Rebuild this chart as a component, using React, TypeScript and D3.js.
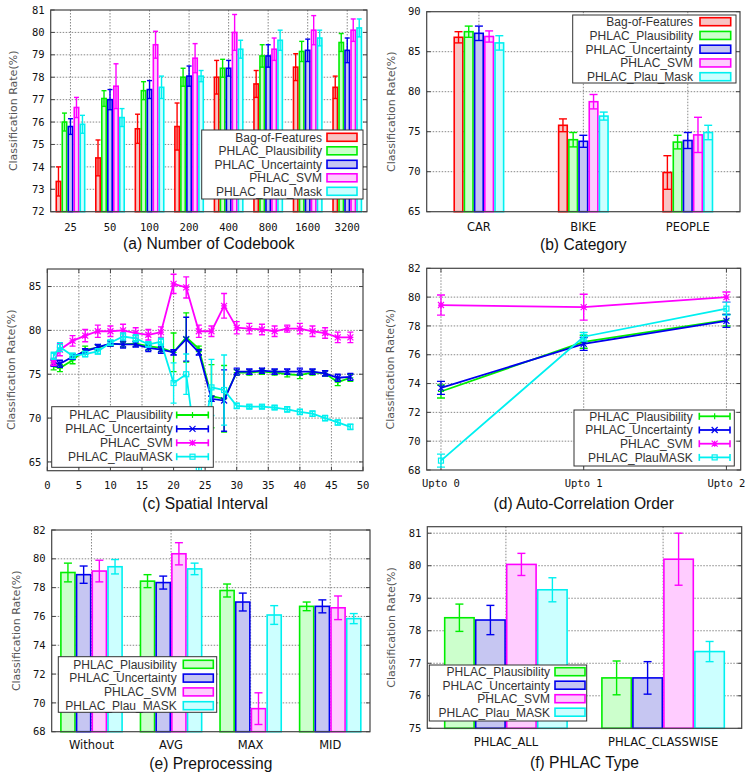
import React from "react";
import * as d3 from "d3";

const W = 745;
const H = 773;

// ---------- colours ----------
const C = { red: "#ff0000", green: "#00ee00", blue: "#0000ee", magenta: "#ff00ff", cyan: "#00f0f0" };
const F = { red: "#f8c4c4", green: "#ccffcc", blue: "#c6c6f2", magenta: "#ffccff", cyan: "#ccffff" };

// ---------- (a) Number of Codebook ----------
const codebookCats = ["25", "50", "100", "200", "400", "800", "1600", "3200"];
const bar5Names = ["Bag-of-Features", "PHLAC_Plausibility", "PHLAC_Uncertainty", "PHLAC_SVM", "PHLAC_Plau_Mask"];
const codebookBoF = [73.35, 74.4, 75.7, 75.8, 78.0, 77.7, 78.45, 77.55];
const codebookBoFErr = [0.65, 0.8, 0.65, 1.05, 0.75, 0.6, 0.6, 0.5];
const codebookPlaus = [76.0, 77.05, 77.4, 78.0, 78.4, 78.95, 79.15, 79.55];
const codebookPlausErr = [0.4, 0.35, 0.4, 0.4, 0.4, 0.5, 0.45, 0.4];
const codebookUncert = [75.8, 77.0, 77.45, 78.05, 78.4, 78.95, 79.2, 79.2];
const codebookUncertErr = [0.35, 0.45, 0.4, 0.45, 0.35, 0.5, 0.5, 0.55];
const codebookSVM = [76.65, 77.6, 79.45, 78.85, 80.0, 79.25, 80.1, 80.1];
const codebookSVMErr = [0.45, 1.0, 0.6, 0.65, 0.8, 0.5, 0.65, 0.5];
const codebookMask = [75.9, 76.2, 77.55, 78.05, 79.25, 79.65, 79.75, 80.2];
const codebookMaskErr = [0.4, 0.4, 0.5, 0.25, 0.4, 0.45, 0.35, 0.4];
const codebookYTicks = [72, 73, 74, 75, 76, 77, 78, 79, 80, 81];

// ---------- (b) Category ----------
const categoryCats = ["CAR", "BIKE", "PEOPLE"];
const categoryBoF = [86.8, 75.8, 69.9];
const categoryBoFErr = [0.7, 0.8, 2.1];
const categoryPlaus = [87.5, 74.0, 73.7];
const categoryPlausErr = [0.7, 0.9, 0.85];
const categoryUncert = [87.3, 73.8, 73.9];
const categoryUncertErr = [0.9, 0.75, 1.0];
const categorySVM = [86.9, 78.75, 74.6];
const categorySVMErr = [0.7, 0.9, 2.2];
const categoryMask = [86.1, 76.95, 74.9];
const categoryMaskErr = [0.9, 0.5, 0.9];
const categoryYTicks = [65, 70, 75, 80, 85, 90];

// ---------- (c) Spatial Interval ----------
const lineNames = ["PHLAC_Plausibility", "PHLAC_Uncertainty", "PHLAC_SVM", "PHLAC_PlauMASK"];
const spatialX = [1, 2, 4, 6, 8, 10, 12, 14, 16, 18, 20, 22, 24, 26, 28, 30, 32, 34, 36, 38, 40, 42, 44, 46, 48];
const spatialPlaus = [75.9, 75.7, 76.6, 77.8, 78.0, 78.5, 78.4, 78.5, 78.2, 78.0, 77.5, 79.2, 77.9, 72.5, 72.2, 75.2, 75.2, 75.3, 75.2, 75.0, 74.9, 75.2, 75.1, 74.1, 74.6];
const spatialPlausErr = [0.4, 0.4, 0.4, 0.4, 0.3, 0.3, 0.3, 0.3, 0.4, 0.4, 2.2, 2.8, 0.3, 3.6, 3.8, 0.3, 0.3, 0.3, 0.3, 0.3, 0.4, 0.3, 0.3, 0.4, 0.4];
const spatialUncert = [76.3, 76.2, 77.0, 77.6, 78.1, 78.5, 78.4, 78.4, 78.0, 77.8, 77.5, 79.0, 77.5, 72.2, 72.0, 75.3, 75.3, 75.4, 75.3, 75.3, 75.3, 75.3, 75.1, 74.6, 74.7];
const spatialUncertErr = [0.4, 0.4, 0.3, 0.3, 0.3, 0.3, 0.4, 0.3, 0.4, 0.4, 0.3, 2.5, 0.3, 0.3, 3.5, 0.4, 0.3, 0.3, 0.3, 0.3, 0.4, 0.3, 0.3, 0.4, 0.4];
const spatialSVM = [76.4, 77.8, 78.8, 79.4, 79.9, 79.9, 80.0, 79.7, 79.5, 79.8, 85.3, 84.9, 79.9, 79.9, 82.8, 80.3, 80.2, 80.1, 79.9, 80.2, 80.2, 79.9, 79.7, 79.2, 79.2];
const spatialSVMErr = [0.4, 0.7, 0.6, 0.7, 0.7, 0.6, 0.7, 0.6, 0.6, 0.6, 1.1, 1.2, 0.7, 0.6, 1.4, 0.7, 0.6, 0.6, 0.6, 0.4, 0.6, 0.6, 0.6, 0.6, 0.6];
const spatialMask = [77.1, 78.1, 77.1, 77.3, 77.6, 78.6, 79.3, 79.1, 78.4, 78.7, 74.0, 75.0, 64.3, 73.5, 73.2, 71.4, 71.3, 71.3, 71.2, 71.0, 70.7, 70.5, 70.0, 69.5, 69.0];
const spatialMaskErr = [0.4, 0.5, 0.3, 0.3, 0.3, 0.3, 0.4, 0.4, 0.3, 0.4, 2.3, 2.3, 6.5, 3.2, 4.0, 0.3, 0.2, 0.2, 0.2, 0.3, 0.3, 0.3, 0.3, 0.3, 0.3];
const spatialXTicks = [0, 5, 10, 15, 20, 25, 30, 35, 40, 45, 50];
const spatialYTicks = [65, 70, 75, 80, 85];

// ---------- (d) Auto-Correlation Order ----------
const orderCats = ["Upto 0", "Upto 1", "Upto 2"];
const orderPlaus = [73.45, 76.9, 78.4];
const orderPlausErr = [0.45, 0.45, 0.4];
const orderUncert = [73.7, 76.75, 78.35];
const orderUncertErr = [0.45, 0.45, 0.45];
const orderSVM = [79.45, 79.3, 80.0];
const orderSVMErr = [0.7, 0.9, 0.35];
const orderMask = [68.65, 77.25, 79.2];
const orderMaskErr = [0.45, 0.3, 0.45];
const orderYTicks = [68, 70, 72, 74, 76, 78, 80, 82];

// ---------- (e) Preprocessing ----------
const bar4Names = ["PHLAC_Plausibility", "PHLAC_Uncertainty", "PHLAC_SVM", "PHLAC_Plau_MASK"];
const prepCats = ["Without", "AVG", "MAX", "MID"];
const prepPlaus = [79.05, 78.45, 77.8, 76.7];
const prepPlausErr = [0.65, 0.45, 0.45, 0.3];
const prepUncert = [78.9, 78.35, 77.0, 76.7];
const prepUncertErr = [0.6, 0.45, 0.62, 0.45];
const prepSVM = [79.15, 80.35, 69.6, 76.6];
const prepSVMErr = [0.75, 0.77, 1.1, 0.82];
const prepMask = [79.45, 79.3, 76.1, 75.85];
const prepMaskErr = [0.5, 0.4, 0.65, 0.35];
const prepYTicks = [68, 70, 72, 74, 76, 78, 80, 82];

// ---------- (f) PHLAC Type ----------
const typeCats = ["PHLAC_ALL", "PHLAC_CLASSWISE"];
const typePlaus = [78.4, 76.55];
const typePlausErr = [0.42, 0.52];
const typeUncert = [78.33, 76.55];
const typeUncertErr = [0.45, 0.5];
const typeSVM = [80.04, 80.2];
const typeSVMErr = [0.34, 0.8];
const typeMask = [79.26, 77.36];
const typeMaskErr = [0.37, 0.31];
const typeYTicks = [75, 76, 77, 78, 79, 80, 81];

// ---------- helpers ----------
type Series = { name: string; color: string; fill: string; values: number[]; errs: number[]; marker?: string };
type Box = { L: number; R: number; T: number; B: number };
type Legend = { x0: number; x1: number; y0: number; y1: number; row0: number; step: number; textRight: number; sw0: number; sw1: number };

const MONO = "'DejaVu Sans Mono', monospace";
const SANS = "'DejaVu Sans', sans-serif";
const LEG = "'Liberation Sans', Arial, sans-serif";
const GRID = { stroke: "#7a7a7a", strokeWidth: 0.9, strokeDasharray: "1.5,1.5" };

function YAxis({ box, y, ticks, titleX }: { box: Box; y: d3.ScaleLinear<number, number>; ticks: number[]; titleX: number }) {
  const cy = (box.T + box.B) / 2;
  return (
    <g>
      {ticks.map((t) => (
        <g key={t}>
          {y(t) > box.T + 1 && y(t) < box.B - 1 && <line x1={box.L} x2={box.R} y1={y(t)} y2={y(t)} {...GRID} />}
          <line x1={box.L} x2={box.L + 4} y1={y(t)} y2={y(t)} stroke="#444" />
          <line x1={box.R - 4} x2={box.R} y1={y(t)} y2={y(t)} stroke="#444" />
          <text x={box.L - 6} y={y(t)} dy="0.35em" textAnchor="end" fontFamily={MONO} fontSize={10.5} fill="#111">
            {t}
          </text>
        </g>
      ))}
      <text
        transform={`translate(${titleX},${cy}) rotate(-90)`}
        textAnchor="middle"
        dominantBaseline="central"
        fontFamily={SANS}
        fontSize={11}
        fill="#555"
      >
        Classification Rate(%)
      </text>
    </g>
  );
}

function Marker({ type, x, y, color }: { type?: string; x: number; y: number; color: string }) {
  const s = 3;
  if (type === "plus") return <path d={`M${x - s},${y}h${2 * s}M${x},${y - s}v${2 * s}`} stroke={color} strokeWidth={1.2} />;
  if (type === "cross")
    return <path d={`M${x - s},${y - s}l${2 * s},${2 * s}M${x - s},${y + s}l${2 * s},${-2 * s}`} stroke={color} strokeWidth={1.2} />;
  if (type === "star")
    return (
      <path
        d={`M${x - s},${y}h${2 * s}M${x},${y - s}v${2 * s}M${x - s},${y - s}l${2 * s},${2 * s}M${x - s},${y + s}l${2 * s},${-2 * s}`}
        stroke={color}
        strokeWidth={1.2}
      />
    );
  if (type === "square") return <rect x={x - 2.5} y={y - 2.5} width={5} height={5} fill="none" stroke={color} strokeWidth={1.2} />;
  return null;
}

function LegendBox({ lg, series, kind }: { lg: Legend; series: Series[]; kind: "bar" | "line" }) {
  return (
    <g>
      <rect x={lg.x0} y={lg.y0} width={lg.x1 - lg.x0} height={lg.y1 - lg.y0} fill="#fff" stroke="#333" strokeWidth={1} />
      {series.map((s, i) => {
        const cy = lg.row0 + i * lg.step;
        return (
          <g key={s.name}>
            <text x={lg.textRight} y={cy} dy="0.36em" textAnchor="end" fontFamily={LEG} fontSize={12} fill="#333">
              {s.name}
            </text>
            {kind === "bar" ? (
              <rect x={lg.sw0} y={cy - 4} width={lg.sw1 - lg.sw0} height={8} fill={s.fill} stroke={s.color} strokeWidth={1.6} />
            ) : (
              <g>
                <line x1={lg.sw0} x2={lg.sw1} y1={cy} y2={cy} stroke={s.color} strokeWidth={1.8} />
                <line x1={lg.sw0} x2={lg.sw0} y1={cy - 3.5} y2={cy + 3.5} stroke={s.color} strokeWidth={1.6} />
                <line x1={lg.sw1} x2={lg.sw1} y1={cy - 3.5} y2={cy + 3.5} stroke={s.color} strokeWidth={1.6} />
                <Marker type={s.marker} x={(lg.sw0 + lg.sw1) / 2} y={cy} color={s.color} />
              </g>
            )}
          </g>
        );
      })}
    </g>
  );
}

function Title({ x, y, text }: { x: number; y: number; text: string }) {
  return (
    <text x={x} y={y} textAnchor="middle" fontFamily={LEG} fontSize={15.6} fill="#111">
      {text}
    </text>
  );
}

type BarCfg = {
  box: Box;
  yDomain: [number, number];
  yTicks: number[];
  cats: string[];
  series: Series[];
  barW: number;
  capW: number;
  catFont: string;
  catSize: number;
  labelDy: number;
  titleX: number;
  title: string;
  titleY: number;
  legend: Legend;
};

function BarPanel({ cfg }: { cfg: BarCfg }) {
  const { box } = cfg;
  const x = d3.scaleLinear().domain([-0.5, cfg.cats.length - 0.5]).range([box.L, box.R]);
  const y = d3.scaleLinear().domain(cfg.yDomain).range([box.B, box.T]);
  const k = cfg.series.length;
  return (
    <g>
      <rect x={box.L} y={box.T} width={box.R - box.L} height={box.B - box.T} fill="#fff" />
      <YAxis box={box} y={y} ticks={cfg.yTicks} titleX={cfg.titleX} />
      {cfg.cats.map((c, i) => (
        <g key={c}>
          <line x1={x(i)} x2={x(i)} y1={box.T} y2={box.B} {...GRID} />
          <text x={x(i)} y={box.B + cfg.labelDy} textAnchor="middle" fontFamily={cfg.catFont} fontSize={cfg.catSize} fill="#111">
            {c}
          </text>
        </g>
      ))}
      {cfg.series.map((s, j) =>
        s.values.map((v, i) => {
          const cx = x(i) + (j - (k - 1) / 2) * cfg.barW;
          const top = y(v);
          return (
            <g key={`${j}-${i}`}>
              <rect x={cx - cfg.barW / 2 + 0.8} y={top} width={cfg.barW - 1.6} height={box.B - top} fill={s.fill} stroke={s.color} strokeWidth={1.6} />
              <line x1={cx} x2={cx} y1={y(v + s.errs[i])} y2={y(v - s.errs[i])} stroke={s.color} strokeWidth={1.4} />
              <line x1={cx - cfg.capW / 2} x2={cx + cfg.capW / 2} y1={y(v + s.errs[i])} y2={y(v + s.errs[i])} stroke={s.color} strokeWidth={1.4} />
              <line x1={cx - cfg.capW / 2} x2={cx + cfg.capW / 2} y1={y(v - s.errs[i])} y2={y(v - s.errs[i])} stroke={s.color} strokeWidth={1.4} />
            </g>
          );
        })
      )}
      <rect x={box.L} y={box.T} width={box.R - box.L} height={box.B - box.T} fill="none" stroke="#444" strokeWidth={1.2} />
      <LegendBox lg={cfg.legend} series={cfg.series} kind="bar" />
      <Title x={(box.L + box.R) / 2} y={cfg.titleY} text={cfg.title} />
    </g>
  );
}

type LineCfg = {
  id: string;
  box: Box;
  xDomain: [number, number];
  xs: number[];
  xTicks: number[];
  xLabels: string[];
  xGrid: number[];
  yDomain: [number, number];
  yTicks: number[];
  series: Series[];
  capW: number;
  labelDy: number;
  titleX: number;
  title: string;
  titleY: number;
  legend: Legend;
};

function LinePanel({ cfg }: { cfg: LineCfg }) {
  const { box } = cfg;
  const x = d3.scaleLinear().domain(cfg.xDomain).range([box.L, box.R]);
  const y = d3.scaleLinear().domain(cfg.yDomain).range([box.B, box.T]);
  const line = d3
    .line<number>()
    .x((_, i) => x(cfg.xs[i]))
    .y((v) => y(v));
  return (
    <g>
      <defs>
        <clipPath id={cfg.id}>
          <rect x={box.L} y={box.T} width={box.R - box.L} height={box.B - box.T} />
        </clipPath>
      </defs>
      <rect x={box.L} y={box.T} width={box.R - box.L} height={box.B - box.T} fill="#fff" />
      <YAxis box={box} y={y} ticks={cfg.yTicks} titleX={cfg.titleX} />
      {cfg.xGrid.map((t) => (
        <line key={`g${t}`} x1={x(t)} x2={x(t)} y1={box.T} y2={box.B} {...GRID} />
      ))}
      {cfg.xTicks.map((t, i) => (
        <g key={`t${t}`}>
          <line x1={x(t)} x2={x(t)} y1={box.B - 4} y2={box.B} stroke="#444" />
          <line x1={x(t)} x2={x(t)} y1={box.T} y2={box.T + 4} stroke="#444" />
          <text x={x(t)} y={box.B + cfg.labelDy} textAnchor="middle" fontFamily={MONO} fontSize={10.5} fill="#111">
            {cfg.xLabels[i]}
          </text>
        </g>
      ))}
      <g clipPath={`url(#${cfg.id})`}>
        {cfg.series.map((s) => (
          <g key={s.name}>
            <path d={line(s.values) || ""} fill="none" stroke={s.color} strokeWidth={1.8} />
            {s.values.map((v, i) => {
              const cx = x(cfg.xs[i]);
              const e = s.errs[i];
              return (
                <g key={i}>
                  <line x1={cx} x2={cx} y1={y(v + e)} y2={y(v - e)} stroke={s.color} strokeWidth={1.4} />
                  <line x1={cx - cfg.capW / 2} x2={cx + cfg.capW / 2} y1={y(v + e)} y2={y(v + e)} stroke={s.color} strokeWidth={1.4} />
                  <line x1={cx - cfg.capW / 2} x2={cx + cfg.capW / 2} y1={y(v - e)} y2={y(v - e)} stroke={s.color} strokeWidth={1.4} />
                  <Marker type={s.marker} x={cx} y={y(v)} color={s.color} />
                </g>
              );
            })}
          </g>
        ))}
      </g>
      <rect x={box.L} y={box.T} width={box.R - box.L} height={box.B - box.T} fill="none" stroke="#444" strokeWidth={1.2} />
      <LegendBox lg={cfg.legend} series={cfg.series} kind="line" />
      <Title x={(box.L + box.R) / 2} y={cfg.titleY} text={cfg.title} />
    </g>
  );
}

const mk = (name: string, col: keyof typeof C, values: number[], errs: number[], marker?: string): Series => ({
  name,
  color: C[col],
  fill: F[col],
  values,
  errs,
  marker,
});

const panelA: BarCfg = {
  box: { L: 50.7, R: 367, T: 10, B: 211.7 },
  yDomain: [72, 81],
  yTicks: codebookYTicks,
  cats: codebookCats,
  series: [
    mk(bar5Names[0], "red", codebookBoF, codebookBoFErr),
    mk(bar5Names[1], "green", codebookPlaus, codebookPlausErr),
    mk(bar5Names[2], "blue", codebookUncert, codebookUncertErr),
    mk(bar5Names[3], "magenta", codebookSVM, codebookSVMErr),
    mk(bar5Names[4], "cyan", codebookMask, codebookMaskErr),
  ],
  barW: 6,
  capW: 5,
  catFont: MONO,
  catSize: 10.5,
  labelDy: 19,
  titleX: 13.3,
  title: "(a) Number of Codebook",
  titleY: 249,
  legend: { x0: 201.7, x1: 363, y0: 130, y1: 199, row0: 137.3, step: 13.5, textRight: 322, sw0: 327, sw1: 357 },
};

const panelB: BarCfg = {
  box: { L: 426.7, R: 740, T: 11.7, B: 211.7 },
  yDomain: [65, 90],
  yTicks: categoryYTicks,
  cats: categoryCats,
  series: [
    mk(bar5Names[0], "red", categoryBoF, categoryBoFErr),
    mk(bar5Names[1], "green", categoryPlaus, categoryPlausErr),
    mk(bar5Names[2], "blue", categoryUncert, categoryUncertErr),
    mk(bar5Names[3], "magenta", categorySVM, categorySVMErr),
    mk(bar5Names[4], "cyan", categoryMask, categoryMaskErr),
  ],
  barW: 10.2,
  capW: 8,
  catFont: SANS,
  catSize: 11.5,
  labelDy: 19,
  titleX: 391.7,
  title: "(b) Category",
  titleY: 250,
  legend: { x0: 572.7, x1: 736, y0: 15, y1: 83, row0: 21.7, step: 13.75, textRight: 693, sw0: 700, sw1: 730.7 },
};

const panelC: LineCfg = {
  id: "clipC",
  box: { L: 47.3, R: 363, T: 269, B: 470.7 },
  xDomain: [0, 50],
  xs: spatialX,
  xTicks: spatialXTicks,
  xLabels: spatialXTicks.map(String),
  xGrid: spatialXTicks.slice(1, -1),
  yDomain: [64, 87],
  yTicks: spatialYTicks,
  series: [
    mk(lineNames[0], "green", spatialPlaus, spatialPlausErr, "plus"),
    mk(lineNames[1], "blue", spatialUncert, spatialUncertErr, "cross"),
    mk(lineNames[2], "magenta", spatialSVM, spatialSVMErr, "star"),
    mk(lineNames[3], "cyan", spatialMask, spatialMaskErr, "square"),
  ],
  capW: 6,
  labelDy: 18,
  titleX: 11.7,
  title: "(c) Spatial Interval",
  titleY: 509,
  legend: { x0: 51.7, x1: 213.3, y0: 406.7, y1: 467.3, row0: 415, step: 13.9, textRight: 172.7, sw0: 176.7, sw1: 208.3 },
};

const panelD: LineCfg = {
  id: "clipD",
  box: { L: 426.7, R: 740.7, T: 268.3, B: 470 },
  xDomain: [-0.1, 2.1],
  xs: [0, 1, 2],
  xTicks: [0, 1, 2],
  xLabels: orderCats,
  xGrid: [0, 1, 2],
  yDomain: [68, 82],
  yTicks: orderYTicks,
  series: [
    mk(lineNames[0], "green", orderPlaus, orderPlausErr, "plus"),
    mk(lineNames[1], "blue", orderUncert, orderUncertErr, "cross"),
    mk(lineNames[2], "magenta", orderSVM, orderSVMErr, "star"),
    mk(lineNames[3], "cyan", orderMask, orderMaskErr, "square"),
  ],
  capW: 8,
  labelDy: 17,
  titleX: 390,
  title: "(d) Auto-Correlation Order",
  titleY: 509,
  legend: { x0: 574, x1: 734.3, y0: 410, y1: 466, row0: 416.3, step: 13.7, textRight: 692.7, sw0: 699.3, sw1: 730 },
};

const panelE: BarCfg = {
  box: { L: 51.7, R: 370, T: 530, B: 731.7 },
  yDomain: [68, 82],
  yTicks: prepYTicks,
  cats: prepCats,
  series: [
    mk(bar4Names[0], "green", prepPlaus, prepPlausErr),
    mk(bar4Names[1], "blue", prepUncert, prepUncertErr),
    mk(bar4Names[2], "magenta", prepSVM, prepSVMErr),
    mk(bar4Names[3], "cyan", prepMask, prepMaskErr),
  ],
  barW: 15.7,
  capW: 8,
  catFont: SANS,
  catSize: 11.5,
  labelDy: 17.5,
  titleX: 16,
  title: "(e) Preprocessing",
  titleY: 769,
  legend: { x0: 58.3, x1: 216.7, y0: 656.7, y1: 712.3, row0: 664.3, step: 13.8, textRight: 176.7, sw0: 183.3, sw1: 213.3 },
};

const panelF: BarCfg = {
  box: { L: 427.3, R: 741.7, T: 526.7, B: 728.3 },
  yDomain: [75, 81.2],
  yTicks: typeYTicks,
  cats: typeCats,
  series: [
    mk(bar4Names[0], "green", typePlaus, typePlausErr),
    mk(bar4Names[1], "blue", typeUncert, typeUncertErr),
    mk(bar4Names[2], "magenta", typeSVM, typeSVMErr),
    mk(bar4Names[3], "cyan", typeMask, typeMaskErr),
  ],
  barW: 31,
  capW: 8,
  catFont: SANS,
  catSize: 11.5,
  labelDy: 17.4,
  titleX: 391.7,
  title: "(f) PHLAC Type",
  titleY: 768,
  legend: { x0: 429.3, x1: 586.7, y0: 665, y1: 721, row0: 671.7, step: 13.5, textRight: 550, sw0: 555, sw1: 585 },
};

export default function App() {
  return (
    <svg width={W} height={H} style={{ position: "absolute", left: 0, top: 0, background: "#fff" }}>
      <rect width={W} height={H} fill="#fff" />
      <BarPanel cfg={panelA} />
      <BarPanel cfg={panelB} />
      <LinePanel cfg={panelC} />
      <LinePanel cfg={panelD} />
      <BarPanel cfg={panelE} />
      <BarPanel cfg={panelF} />
    </svg>
  );
}
